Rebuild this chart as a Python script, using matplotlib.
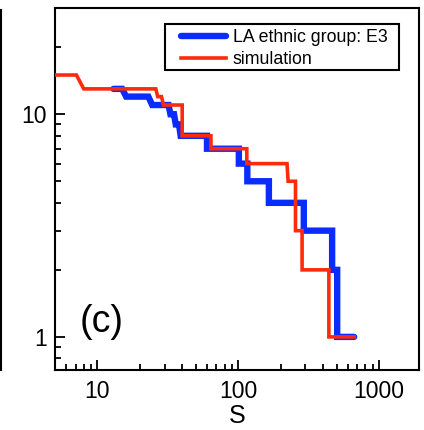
import matplotlib
matplotlib.use("Agg")
import matplotlib.pyplot as plt
from matplotlib.ticker import LogLocator, NullFormatter
from matplotlib.lines import Line2D
from matplotlib.patches import Rectangle

plt.rcParams['font.family'] = ['Liberation Sans', 'DejaVu Sans']

# step-like rank curves (size s, count)
la_s = [13, 15, 16, 23, 24.5, 32, 33, 35, 36, 38, 39, 60, 60, 101, 101, 116, 116,
        165, 165, 292, 292, 464, 464, 504, 504, 665]
la_n = [13, 13, 12, 12, 11, 11, 10, 10, 9, 9, 8, 8, 7, 7, 6, 6, 5,
        5, 4, 4, 3, 3, 2, 2, 1, 1]

sim_s = [4, 7.1, 8.0, 26, 26.8, 28.5, 29.5, 40, 40, 64, 64, 115, 115,
         222, 226, 255, 255, 284, 284, 440, 440, 665]
sim_n = [15, 15, 13, 13, 12, 12, 11, 11, 8, 8, 7, 7, 6,
         6, 5, 5, 3, 3, 2, 2, 1, 1]

x_ticks = [10, 100, 1000]
y_ticks = [1, 10]

fig = plt.figure(figsize=(4.24, 4.30), dpi=100)
ax = fig.add_axes([0.1297, 0.1395, 0.8585, 0.8419])

ax.plot(la_s, la_n, color='#0a2cff', lw=4.6, solid_capstyle='round',
        solid_joinstyle='miter', label='LA ethnic group: E3', zorder=2)
ax.plot(sim_s, sim_n, color='#ff2a0a', lw=2.6, solid_joinstyle='miter',
        label='simulation', zorder=3)

ax.set_xscale('log')
ax.set_yscale('log')
ax.set_xlim(5, 1920)
ax.set_ylim(0.71, 30)

ax.set_xticks(x_ticks)
ax.set_xticklabels([str(t) for t in x_ticks])
ax.set_yticks(y_ticks)
ax.set_yticklabels([str(t) for t in y_ticks])
ax.xaxis.set_minor_locator(LogLocator(base=10, subs=range(2, 10)))
ax.yaxis.set_minor_locator(LogLocator(base=10, subs=range(2, 10)))
ax.xaxis.set_minor_formatter(NullFormatter())
ax.yaxis.set_minor_formatter(NullFormatter())

ax.tick_params(which='both', direction='in', top=False, right=False, width=1.3)
ax.tick_params(which='major', length=7, labelsize=16.5)
ax.tick_params(axis='x', which='major', pad=7)
ax.tick_params(axis='y', which='major', pad=6)
ax.tick_params(which='minor', length=4)
for sp in ax.spines.values():
    sp.set_linewidth(1.5)

ax.set_xlabel('S', fontsize=18, labelpad=1)
ax.text(0.069, 0.133, '(c)', transform=ax.transAxes, fontsize=27,
        ha='left', va='center')

# legend frame drawn separately (wide left margin, tight top/bottom)
ax.add_patch(Rectangle((0.302, 0.829), 0.643, 0.127, transform=ax.transAxes,
                       facecolor='white', edgecolor='black', lw=1.5, zorder=4))
leg = ax.legend(loc='upper left', bbox_to_anchor=(0.347, 0.941), borderaxespad=0,
                fontsize=12.8, frameon=False, handlelength=2.5,
                handletextpad=0.4, labelspacing=0.25, borderpad=0.0)
leg.set_zorder(5)

# edge of the neighbouring panel on the left
fig.add_artist(Line2D([1.2 / 424, 1.2 / 424], [60 / 430, 420 / 430],
                      transform=fig.transFigure, color='black', lw=1.5))

fig.savefig('out.png', dpi=100)
